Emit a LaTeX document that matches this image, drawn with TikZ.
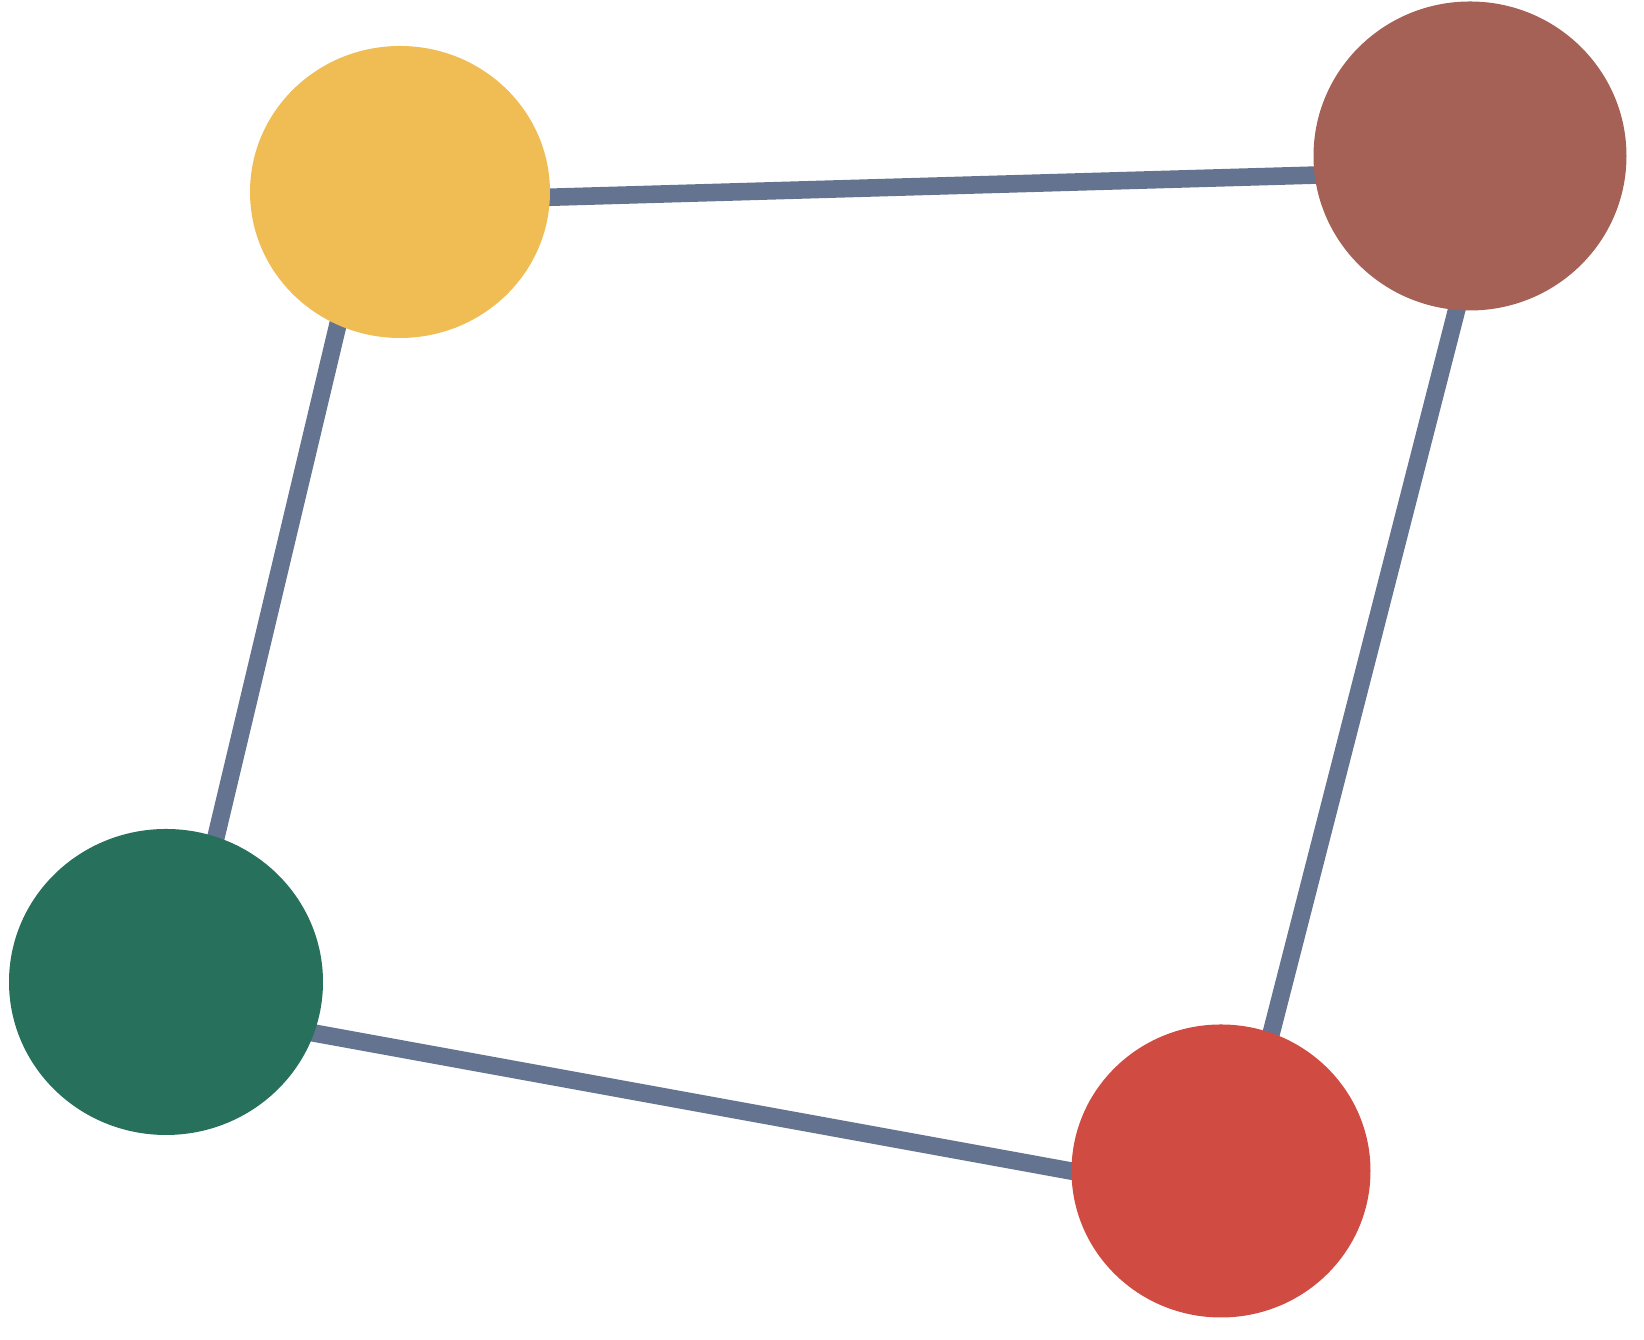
\documentclass[tikz,border=0pt]{standalone}
\usepackage{tikz}
\usetikzlibrary{
  shapes.geometric,
  backgrounds
}
\definecolor{dotyellow}{RGB}{240,188,84}
\definecolor{dotbrown}{RGB}{166,97,86}
\definecolor{dotgreen}{RGB}{38,112,92}
\definecolor{dotred}{RGB}{208,76,66}
\definecolor{linkgray}{RGB}{100,115,143}

\begin{document}
\begin{tikzpicture}[
  dot/.style={ellipse, inner sep=0pt},
  link/.style={linkgray, line width=5pt, shorten <=-5pt, shorten >=-5pt}
]
  \useasboundingbox (0, 0) rectangle (16.44, 13.40);

  % Dots
  \node[dot, fill=dotyellow, minimum width=3.00cm, minimum height=2.92cm] (yellow) at (4.00, 11.48) {};
  \node[dot, fill=dotbrown, minimum width=3.13cm, minimum height=3.09cm] (brown) at (14.70, 11.84) {};
  \node[dot, fill=dotgreen, minimum width=3.14cm, minimum height=3.06cm] (green) at (1.66, 3.58) {};
  \node[dot, fill=dotred, minimum width=2.99cm, minimum height=2.93cm] (red) at (12.21, 1.69) {};

  % Links
  \begin{scope}[on background layer]
    \draw[link] (yellow.358) -- (brown.187);
    \draw[link] (brown.265) -- (red.70);
    \draw[link] (red.180) -- (green.341);
    \draw[link] (green.71) -- (yellow.245);
  \end{scope}
\end{tikzpicture}
\end{document}
